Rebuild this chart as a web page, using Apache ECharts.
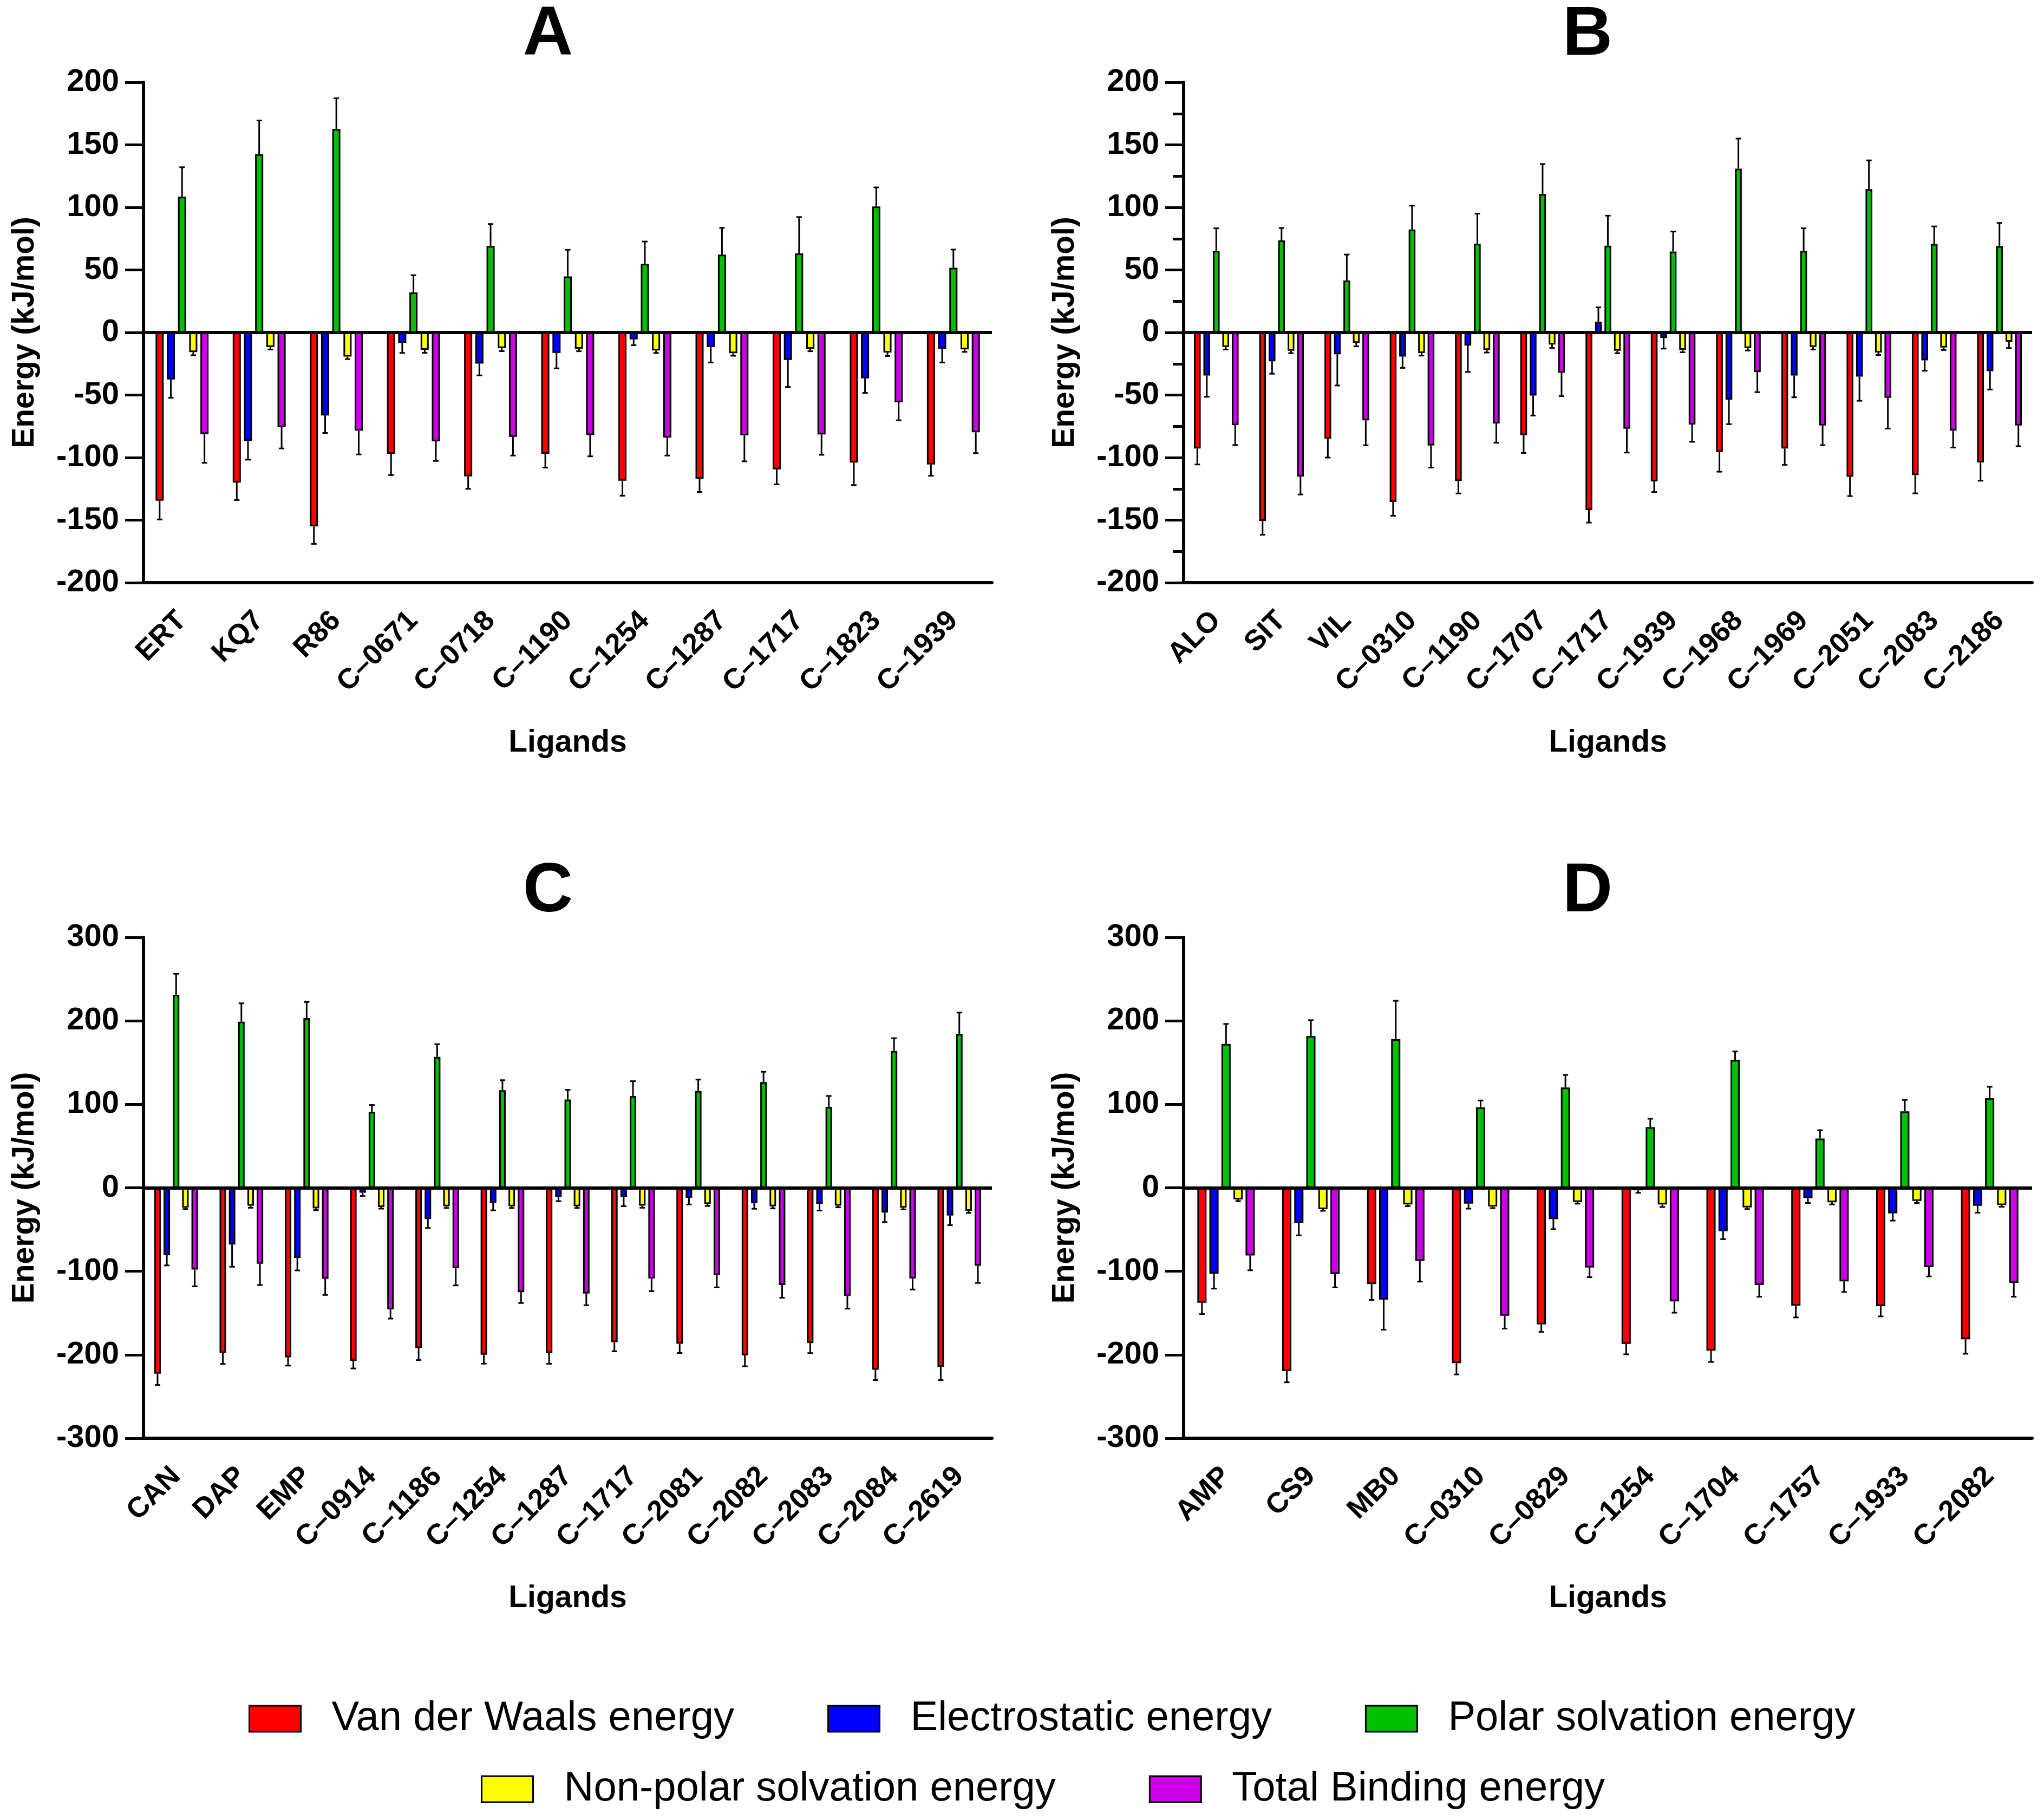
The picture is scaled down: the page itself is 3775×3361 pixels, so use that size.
<!DOCTYPE html>
<html><head><meta charset="utf-8">
<script src="https://cdn.jsdelivr.net/npm/echarts@6/dist/echarts.min.js"></script>
<style>html,body{margin:0;padding:0;background:#fff}#c{width:3775px;height:3361px}</style>
</head><body><div id="c"></div>
<script>
// ---------- data ----------
const seriesNames = ['Van der Waals energy','Electrostatic energy','Polar solvation energy','Non-polar solvation energy','Total Binding energy'];

const catA = ['ERT','KQ7','R86','C–0671','C–0718','C–1190','C–1254','C–1287','C–1717','C–1823','C–1939'];
const vdwA = [-134.5,-120,-155,-97,-115,-97,-118.5,-117,-109.4,-104,-105.5];
const vdwErrA = [15,14,14,17,10,11,12,10.5,12,18,9];
const eleA = [-37.6,-86.7,-66.3,-8.3,-24.9,-16.3,-5.5,-11.6,-22,-36.7,-13];
const eleErrA = [14.6,15,14,8,9.4,12.4,4.7,12.4,21.5,11.6,11];
const polA = [108.6,142.5,162.7,32,69.3,44.8,55,62.2,63.3,100.8,51.7];
const polErrA = [23.5,27,24.6,13.8,17.4,21.3,17.7,21.5,29,15.2,14.6];
const npA = [-15.7,-11.6,-19.3,-13.8,-12.4,-13,-14.4,-16.6,-13,-16,-13.5];
const npErrA = [2.5,2,2,2.5,2.5,2,2,2,2,2.8,2];
const totA = [-81.2,-75.7,-78.5,-87,-83.4,-82,-84,-82.3,-81.5,-55.8,-79.8];
const totErrA = [23,17,19,15.7,15,17,14.4,20.7,16.3,14.4,16.6];

const catB = ['ALO','SIT','VIL','C–0310','C–1190','C–1707','C–1717','C–1939','C–1968','C–1969','C–2051','C–2083','C–2186'];
const vdwB = [-92.8,-150.7,-85,-135.5,-118.7,-82,-142,-119,-95.6,-92.8,-115.4,-114,-103.9];
const vdwErrB = [12.7,11,15,11,10,14.3,10,8.5,15.7,13,15.4,14.6,14.6];
const eleB = [-34.4,-23,-17.4,-19.3,-10.5,-50.4,8.5,-4.4,-53.7,-34.4,-35.3,-22.3,-31];
const eleErrB = [17,10,25,9,21,16,11.6,8.5,19.6,17.4,19.3,8.3,14.6];
const polB = [65.3,73.6,41.6,82.4,71,110.7,69.4,64.7,131,65.3,114.6,70.8,69.1];
const polErrB = [18,10,20.7,19,24,24,24,16,24,18,23,14,18.5];
const npB = [-11.6,-14.6,-8.3,-16.5,-14,-9.6,-14.6,-13.8,-12.4,-11.6,-16,-12,-7.4];
const npErrB = [2,2,2.8,2,2,2.8,2,2,2,2,2,2,5];
const totB = [-74,-115.2,-70.2,-90.4,-72.7,-32.2,-77,-73.6,-31.7,-74.4,-52.3,-78.5,-74.4];
const totErrB = [16,14.3,20,17.6,15.4,18.7,19,13.8,16,15.7,24.5,13.5,16.5];

const catC = ['CAN','DAP','EMP','C–0914','C–1186','C–1254','C–1287','C–1717','C–2081','C–2082','C–2083','C–2084','C–2619'];
const vdwC = [-222.6,-198,-203,-207.4,-192,-200,-198,-184.8,-186.8,-200.8,-186,-218,-214.4];
const vdwErrC = [13.6,13,10,9,14.4,10.7,12.8,11,11,13,12,12.3,16];
const eleC = [-80.7,-67.9,-84,-5.8,-37.4,-18,-11,-11,-12,-18.5,-19.3,-29.6,-33.3];
const eleErrC = [12.3,26.7,15,4,10.7,9,5,11,8,6.6,8,11.5,11.5];
const polC = [231.3,199,203.3,91,156.8,116.9,105.8,110,116,126.7,97,164,184.4];
const polErrC = [25,22,19.3,8.2,15.2,12,11.5,17.7,13.6,12.3,13,15.2,25.5];
const npC = [-23.9,-21.4,-24.7,-23,-22.2,-22.2,-22.2,-21.4,-19.3,-22.2,-21.4,-23.9,-27.6];
const npErrC = [1.6,2.5,2,2,2,2,2,2.5,2.5,2.5,2,2,2.5];
const totC = [-98,-91,-109,-145.7,-96.3,-125,-126.7,-108.6,-104.5,-116.5,-129.6,-108.6,-93.4];
const totErrC = [20,25.5,19.3,11,20.6,13,14,15.2,14.8,15.2,15.2,13.2,20.6];

const catD = ['AMP','CS9','MB0','C–0310','C–0829','C–1254','C–1704','C–1757','C–1933','C–2082'];
const vdwD = [-137.6,-219.4,-115.3,-210,-163.6,-187,-195,-141.3,-141.7,-181.4];
const vdwErrD = [13.6,13.6,19,13.6,9,12.4,13.6,14,12.4,17.4];
const eleD = [-103,-42,-134,-19,-37.6,-3,-52,-12.4,-30.6,-21.5];
const eleErrD = [17.8,15,36,6,12,3,9.5,5.8,8.7,8.3];
const polD = [172.3,181.8,178,96.3,120.2,72.7,153.3,59,91.7,107.4];
const polErrD = [24,19,46,8.3,15,10,10,10,13.6,13.6];
const npD = [-14,-25.6,-20,-22.3,-17,-20,-23.5,-17.4,-15.7,-20.7];
const npErrD = [2,2,2,2,2,3,2,2.5,2.5,2];
const totD = [-81,-103.3,-87.6,-153.3,-95.5,-136,-116.5,-112,-95,-114];
const totErrD = [17.8,16,24.8,15.3,11.6,13.6,14,12.8,11.2,16.5];

const yTicksAB = [-200, 200, 50];
const yTicksCD = [-300, 300, 100];

// ---------- style / layout ----------
const FONT = '"Liberation Sans", Arial, sans-serif';
const COLORS = ['#FF0000','#0000FF','#00C000','#FFFF00','#CC00E6'];

const panels = [
  {label:'A', cats:catA, vals:[vdwA,eleA,polA,npA,totA], errs:[vdwErrA,eleErrA,polErrA,npErrA,totErrA],
   left:265, top:152, height:924, y:yTicksAB, minor:false, bw:15, gap:0.38, tx:1012, ty:2},
  {label:'B', cats:catB, vals:[vdwB,eleB,polB,npB,totB], errs:[vdwErrB,eleErrB,polErrB,npErrB,totErrB],
   left:2186, top:152, height:924, y:yTicksAB, minor:true, bw:12.5, gap:0.40, tx:2932, ty:2},
  {label:'C', cats:catC, vals:[vdwC,eleC,polC,npC,totC], errs:[vdwErrC,eleErrC,polErrC,npErrC,totErrC],
   left:265, top:1731, height:925, y:yTicksCD, minor:false, bw:12, gap:0.43, tx:1012, ty:1584},
  {label:'D', cats:catD, vals:[vdwD,eleD,polD,npD,totD], errs:[vdwErrD,eleErrD,polErrD,npErrD,totErrD],
   left:2186, top:1731, height:925, y:yTicksCD, minor:false, bw:17, gap:0.31, tx:2932, ty:1584}
];
const PLOT_W = 1567;

function errRenderer(offset){
  return function(params, api){
    const x = api.value(0), v = api.value(1), e = api.value(2);
    const sgn = v >= 0 ? 1 : -1;
    const p0 = api.coord([x, v]);
    const p1 = api.coord([x, v + sgn * e]);
    const cx = p0[0] + offset;
    return {type:'group', children:[
      {type:'line', shape:{x1:cx, y1:p0[1], x2:cx, y2:p1[1]}, style:{stroke:'#000', lineWidth:3}},
      {type:'line', shape:{x1:cx-5, y1:p1[1], x2:cx+5, y2:p1[1]}, style:{stroke:'#000', lineWidth:3}}
    ]};
  };
}

const option = {
  animation:false,
  backgroundColor:'#fff',
  textStyle:{fontFamily:FONT},
  title:[], grid:[], xAxis:[], yAxis:[], series:[],
  legend:[
    {data:seriesNames.slice(0,3), left:454, top:3131, itemWidth:95, itemHeight:48, itemGap:172, icon:'rect',
     itemStyle:{borderColor:'#000', borderWidth:3},
     textStyle:{fontSize:76, fontFamily:FONT, color:'#000', padding:[0,0,0,52]}},
    {data:seriesNames.slice(3), left:883, top:3261, itemWidth:95, itemHeight:48, itemGap:172, icon:'rect',
     itemStyle:{borderColor:'#000', borderWidth:3},
     textStyle:{fontSize:76, fontFamily:FONT, color:'#000', padding:[0,0,0,52]}}
  ]
};

panels.forEach((p, gi) => {
  option.title.push({text:p.label, left:p.tx, top:p.ty, textAlign:'center', padding:0,
    textStyle:{fontSize:128, fontWeight:'bold', fontFamily:FONT, color:'#000'}});
  option.grid.push({left:p.left, top:p.top, width:PLOT_W, height:p.height, containLabel:false});
  option.xAxis.push({
    type:'category', gridIndex:gi, data:p.cats, position:'bottom',
    name:'Ligands', nameLocation:'middle', nameGap:268,
    nameTextStyle:{fontSize:57, fontWeight:'bold', fontFamily:FONT, color:'#000'},
    axisLine:{onZero:false, lineStyle:{color:'#000', width:6}},
    axisTick:{alignWithLabel:true, length:34, lineStyle:{color:'#000', width:5}},
    axisLabel:{rotate:45, margin:62, fontSize:53, fontWeight:'bold', fontFamily:FONT, color:'#000', interval:0},
    splitLine:{show:false}
  });
  option.yAxis.push({
    type:'value', gridIndex:gi, min:p.y[0], max:p.y[1], interval:p.y[2],
    name:'Energy (kJ/mol)', nameLocation:'middle', nameGap:190,
    nameTextStyle:{fontSize:57, fontWeight:'bold', fontFamily:FONT, color:'#000'},
    axisLine:{show:true, onZero:false, lineStyle:{color:'#000', width:6}},
    axisTick:{show:true, length:34, lineStyle:{color:'#000', width:5}},
    minorTick:{show:p.minor, splitNumber:2, length:20, lineStyle:{color:'#000', width:5}},
    axisLabel:{margin:45, fontSize:58, fontWeight:'bold', fontFamily:FONT, color:'#000'},
    splitLine:{show:false}, minorSplitLine:{show:false}
  });
  const pitch = p.bw * (1 + p.gap);
  p.vals.forEach((vals, si) => {
    const s = {
      type:'bar', name:seriesNames[si], xAxisIndex:gi, yAxisIndex:gi, data:vals,
      barWidth:p.bw, barGap:(p.gap*100)+'%',
      itemStyle:{color:COLORS[si], borderColor:'#000', borderWidth:3},
      z:2
    };
    if (si === 0) {
      s.markLine = {silent:true, symbol:['none','none'], label:{show:false},
        lineStyle:{color:'#000', width:6, type:'solid'}, data:[{yAxis:0}], z:5};
    }
    option.series.push(s);
  });
  p.vals.forEach((vals, si) => {
    option.series.push({
      type:'custom', xAxisIndex:gi, yAxisIndex:gi, clip:false, z:3,
      renderItem:errRenderer((si - 2) * pitch),
      encode:{x:0, y:1},
      data:vals.map((v, i) => [i, v, p.errs[si][i]])
    });
  });
});

const chart = echarts.init(document.getElementById('c'), null, {renderer:'canvas'});
chart.setOption(option);
</script>
</body></html>
